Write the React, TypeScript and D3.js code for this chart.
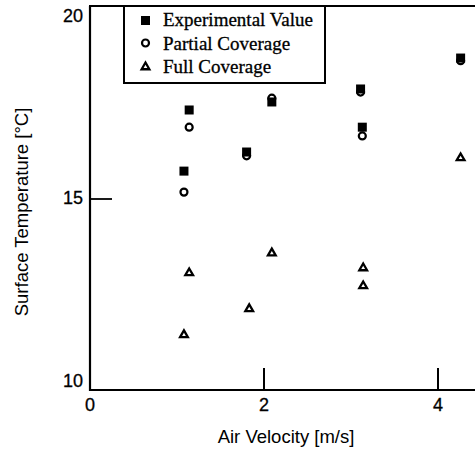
import * as d3 from "d3";

const expX = [1.14, 1.08, 1.8, 2.09, 3.11, 3.13, 4.26];
const expY = [17.33, 15.73, 16.23, 17.54, 17.88, 16.88, 18.69];

const partialX = [1.14, 1.08, 1.8, 2.09, 3.11, 3.13, 4.26];
const partialY = [16.88, 15.18, 16.13, 17.64, 17.8, 16.65, 18.62];

const fullX = [1.14, 1.08, 1.83, 2.09, 3.14, 3.14, 4.26];
const fullY = [13.09, 11.47, 12.15, 13.61, 13.22, 12.75, 16.1];

const xTicks = [0, 2, 4];
const yTicks = [10, 15, 20];
const legendLabels = ["Experimental Value", "Partial Coverage", "Full Coverage"];

const W = 475;
const H = 451;
const left = 90;
const top = 8;
const bottom = 390;
const sans = "Liberation Sans, Arial";

export default function App() {
  const x = d3.scaleLinear().domain([0, 4]).range([left, 438]);
  const y = d3.scaleLinear().domain([10, 20]).range([bottom, top]);
  const tri = d3.symbol(d3.symbolTriangle, 26)()!;

  return (
    <svg width={W} height={H} style={{ position: "absolute", left: 0, top: 0, background: "#fff" }}>
      {/* frame */}
      <line x1={left} y1={6} x2={left} y2={bottom + 1} stroke="#000" strokeWidth={2.2} />
      <line x1={left - 1} y1={bottom} x2={W} y2={bottom} stroke="#000" strokeWidth={2.2} />
      <line x1={left - 1} y1={6} x2={W} y2={6} stroke="#000" strokeWidth={2.2} />

      {yTicks.map((t) => (
        <g key={t}>
          {t === 15 && <line x1={left} x2={left + 22} y1={y(t)} y2={y(t)} stroke="#000" strokeWidth={1.8} />}
          <text x={left - 7} y={y(t) + (t === 10 ? -3 : t === 20 ? 14 : 5)} textAnchor="end"
            fontFamily={sans} fontSize={18} stroke="#000" strokeWidth={0.3}>{t}</text>
        </g>
      ))}
      {xTicks.map((t) => (
        <g key={t}>
          {t !== 0 && <line x1={x(t)} x2={x(t)} y1={bottom} y2={bottom - 22} stroke="#000" strokeWidth={2} />}
          <text x={x(t)} y={bottom + 21} textAnchor="middle" fontFamily={sans} fontSize={18}
            stroke="#000" strokeWidth={0.3}>{t}</text>
        </g>
      ))}

      <text x={286} y={443} textAnchor="middle" fontFamily={sans} fontSize={18.5}>
        Air Velocity [m/s]
      </text>
      <text transform="translate(28,212) rotate(-90)" textAnchor="middle" fontFamily={sans} fontSize={18.5}>
        Surface Temperature [°C]
      </text>

      {fullX.map((v, i) => (
        <path key={"f" + i} d={tri} transform={`translate(${x(v)},${y(fullY[i]) + 1})`} fill="#fff" stroke="#000" strokeWidth={2.3} />
      ))}
      {partialX.map((v, i) => (
        <circle key={"p" + i} cx={x(v)} cy={y(partialY[i])} r={3.5} fill="#fff" stroke="#000" strokeWidth={2.2} />
      ))}
      {expX.map((v, i) => (
        <rect key={"e" + i} x={x(v) - 4.5} y={y(expY[i]) - 4.5} width={9} height={9} fill="#000" />
      ))}

      {/* legend */}
      <rect x={124} y={6} width={201} height={77} fill="#fff" stroke="#000" strokeWidth={2} />
      <rect x={141} y={16} width={9} height={9} fill="#000" />
      <circle cx={145.5} cy={43} r={3.5} fill="#fff" stroke="#000" strokeWidth={2.2} />
      <path d={tri} transform="translate(145.5,67)" fill="#fff" stroke="#000" strokeWidth={2.3} />
      {legendLabels.map((l, i) => (
        <text key={l} x={163} y={26 + i * 23.5} fontFamily="Liberation Serif, Times New Roman" fontSize={19}
          stroke="#000" strokeWidth={0.3}>{l}</text>
      ))}
    </svg>
  );
}
